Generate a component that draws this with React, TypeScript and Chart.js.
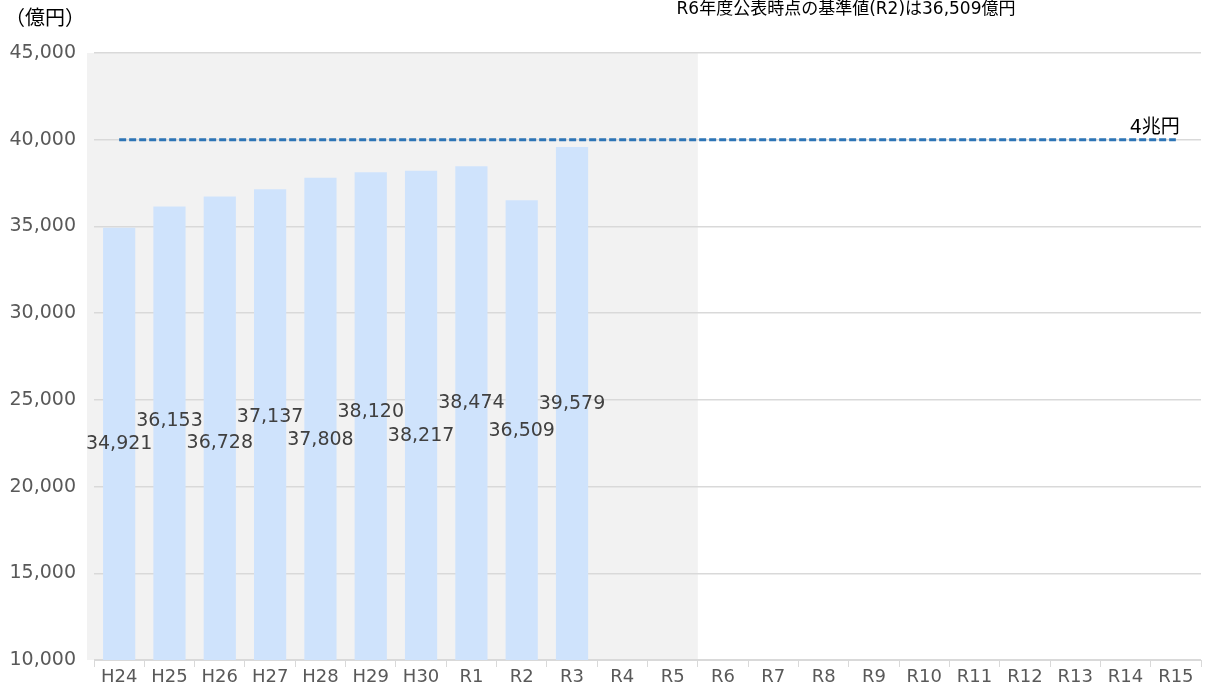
import React, { useEffect, useRef } from "react";
import { Chart, registerables } from "chart.js";

Chart.register(...registerables);

const categories = [
  "H24", "H25", "H26", "H27", "H28", "H29", "H30",
  "R1", "R2", "R3", "R4", "R5", "R6", "R7", "R8", "R9", "R10",
  "R11", "R12", "R13", "R14", "R15",
];
const actualValues: (number | null)[] = [
  34921, 36153, 36728, 37137, 37808, 38120, 38217, 38474, 36509, 39579,
  null, null, null, null, null, null, null, null, null, null, null, null,
];
const targetValues = categories.map(() => 40000);
const yTicks = [10000, 15000, 20000, 25000, 30000, 35000, 40000, 45000];
const titleText = "R6年度公表時点の基準値(R2)は36,509億円";
const unitText = "（億円）";
const targetText = "4兆円";
const shadedUntil = "R5";

const FONT = "'DejaVu Sans', 'Noto Sans CJK JP', sans-serif";
const CJK = "'Noto Sans CJK JP', sans-serif";

// vertical anchor (in axis units) for each data label, alternating rows as in the source
const labelLevels = [22455, 23780, 22510, 24010, 22685, 24300, 22915, 24820, 23205, 24760];

const fmt = (v: number) => v.toLocaleString("en-US");

const decorPlugin = {
  id: "decor",
  beforeDraw(chart: any) {
    const { ctx, chartArea, scales } = chart;
    const x = scales.x;
    const idx = categories.indexOf(shadedUntil);
    const right = (x.getPixelForValue(idx) + x.getPixelForValue(idx + 1)) / 2;
    ctx.save();
    ctx.fillStyle = "#f2f2f2";
    ctx.fillRect(chartArea.left - 7, chartArea.top, right - (chartArea.left - 7), chartArea.bottom - chartArea.top);
    ctx.restore();
  },
  afterDatasetsDraw(chart: any) {
    const { ctx, scales } = chart;
    const x = scales.x;
    const y = scales.y;
    ctx.save();
    ctx.font = `19px ${FONT}`;
    ctx.fillStyle = "#404040";
    ctx.textAlign = "center";
    ctx.textBaseline = "middle";
    actualValues.forEach((v, i) => {
      if (v == null) return;
      ctx.fillText(fmt(v), x.getPixelForValue(i), y.getPixelForValue(labelLevels[i]));
    });
    // target label
    ctx.fillStyle = "#000000";
    ctx.font = `19px ${FONT}`;
    ctx.textAlign = "right";
    ctx.textBaseline = "alphabetic";
    ctx.fillText(targetText, x.getPixelForValue(categories.length - 1) + 4, y.getPixelForValue(40000) - 7);
    // title
    ctx.font = `17px ${FONT}`;
    ctx.textAlign = "center";
    ctx.fillText(titleText, 846, 14);
    // unit
    ctx.textAlign = "left";
    ctx.font = `20px ${CJK}`;
    ctx.fillText(unitText, 5, 25);
    ctx.restore();
  },
};

export default function App() {
  const ref = useRef<HTMLCanvasElement | null>(null);
  useEffect(() => {
    if (!ref.current) return;
    const chart = new Chart(ref.current, {
      type: "bar",
      data: {
        labels: categories,
        datasets: [
          {
            type: "bar",
            data: actualValues,
            backgroundColor: "#cfe3fc",
            barPercentage: 0.64,
            categoryPercentage: 1,
            order: 2,
          },
          {
            type: "line",
            data: targetValues,
            borderColor: "#2e75b6",
            borderWidth: 3,
            borderDash: [7, 3],
            pointRadius: 0,
            fill: false,
            order: 1,
          } as any,
        ],
      },
      options: {
        responsive: false,
        animation: false,
        layout: { padding: { top: 53, right: 8, left: 0, bottom: 0 } },
        plugins: {
          legend: { display: false },
          tooltip: { enabled: false },
          title: { display: false },
        },
        scales: {
          x: {
            grid: {
              display: true,
              drawOnChartArea: false,
              drawTicks: true,
              tickLength: 7,
              color: "#d9d9d9",
              offset: true,
            },
            border: { display: true, color: "#d9d9d9" },
            ticks: {
              color: "#595959",
              font: { family: FONT, size: 18 },
              padding: 0,
              maxRotation: 0,
              autoSkip: false,
            },
            afterFit: (scale: any) => {
              scale.height = 30;
            },
          },
          y: {
            min: 10000,
            max: 45000,
            afterBuildTicks: (scale: any) => {
              scale.ticks = yTicks.map((v) => ({ value: v }));
            },
            grid: { color: "#d9d9d9", drawTicks: false, lineWidth: 1.5 },
            border: { display: false },
            ticks: {
              color: "#595959",
              font: { family: FONT, size: 19 },
              padding: 18,
              callback: (v: any) => fmt(Number(v)),
            },
            afterFit: (scale: any) => {
              scale.width = 94;
            },
          },
        },
      },
      plugins: [decorPlugin],
    });
    return () => chart.destroy();
  }, []);
  return (
    <div style={{ position: "absolute", left: 0, top: 0, width: 1209, height: 690, background: "#fff" }}>
      <canvas ref={ref} width={1209} height={690} />
    </div>
  );
}
